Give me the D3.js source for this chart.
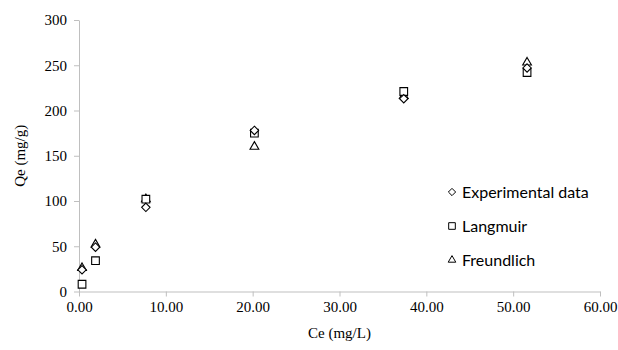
<!DOCTYPE html>
<meta charset="utf-8" />
<style>
  body { margin: 0; background: #fff; }
</style>
<svg width="618" height="350"></svg>
<script src="https://d3js.org/d3.v7.min.js"></script>
<script>
    // data
    var ce = [0.35, 1.9, 7.7, 20.2, 37.4, 51.6];
    var experimental = [24, 49, 93, 178, 213, 247];
    var langmuir = [8, 34, 102, 175, 221, 242];
    var freundlich = [26, 52, 102, 160, 216, 253];
    var xTicks = [0, 10, 20, 30, 40, 50, 60];
    var yTicks = [0, 50, 100, 150, 200, 250, 300];

    var svg = d3.select("svg");

    var x = d3.scaleLinear().domain([0, 60]).range([79, 600]);
    var y = d3.scaleLinear().domain([0, 300]).range([291.5, 20]);

    var axisColor = "#bfbfbf";
    var serif = "'Liberation Serif', 'Times New Roman', serif";

    var xAxis = svg.append("g")
        .attr("transform", "translate(0," + y(0) + ")")
        .call(d3.axisBottom(x).tickValues(xTicks).tickSize(5).tickSizeOuter(0).tickPadding(5)
            .tickFormat(d3.format(".2f")));
    var yAxis = svg.append("g")
        .attr("transform", "translate(" + x(0) + ",0)")
        .call(d3.axisLeft(y).tickValues(yTicks).tickSize(5).tickSizeOuter(0).tickPadding(7));

    [xAxis, yAxis].forEach(function(g) {
        g.attr("font-family", null).attr("font-size", null);
        g.select(".domain").attr("stroke", axisColor);
        g.selectAll(".tick line").attr("stroke", axisColor);
        g.selectAll("text")
            .style("font-family", serif)
            .style("font-size", "15px")
            .attr("fill", "#000");
    });

    svg.append("text")
        .attr("x", (x(0) + x(60)) / 2)
        .attr("y", 338)
        .attr("text-anchor", "middle")
        .style("font-family", serif)
        .style("font-size", "15px")
        .text("Ce (mg/L)");

    svg.append("text")
        .attr("transform", "translate(25," + y(150) + ") rotate(-90)")
        .attr("text-anchor", "middle")
        .style("font-family", serif)
        .style("font-size", "15px")
        .text("Qe (mg/g)");

    var series = [
        { name: "Experimental data", values: experimental, type: d3.symbolDiamond2, size: 45 },
        { name: "Langmuir", values: langmuir, type: d3.symbolSquare2, size: 75 },
        { name: "Freundlich", values: freundlich, type: d3.symbolTriangle2, size: 55 }
    ];

    // draw in reverse so the experimental diamonds sit on top
    series.slice().reverse().forEach(function(s) {
        svg.append("g")
            .selectAll("path")
            .data(s.values)
            .enter()
            .append("path")
            .attr("d", d3.symbol().type(s.type).size(s.size))
            .attr("transform", function(d, i) { return "translate(" + x(ce[i]) + "," + y(d) + ")"; })
            .attr("fill", "#fff")
            .attr("stroke", "#000")
            .attr("stroke-width", 1.1);
    });

    var legend = svg.append("g");
    series.forEach(function(s, i) {
        var ly = 192 + i * 34;
        legend.append("path")
            .attr("d", d3.symbol().type(s.type).size(s.size * 0.75))
            .attr("transform", "translate(452," + ly + ")")
            .attr("fill", "#fff")
            .attr("stroke", "#000")
            .attr("stroke-width", 1);
        legend.append("text")
            .attr("x", 462)
            .attr("y", ly + 5.5)
            .style("font-family", "Lato, 'Open Sans', sans-serif")
            .style("font-size", "16px")
            .text(s.name);
    });
</script>
